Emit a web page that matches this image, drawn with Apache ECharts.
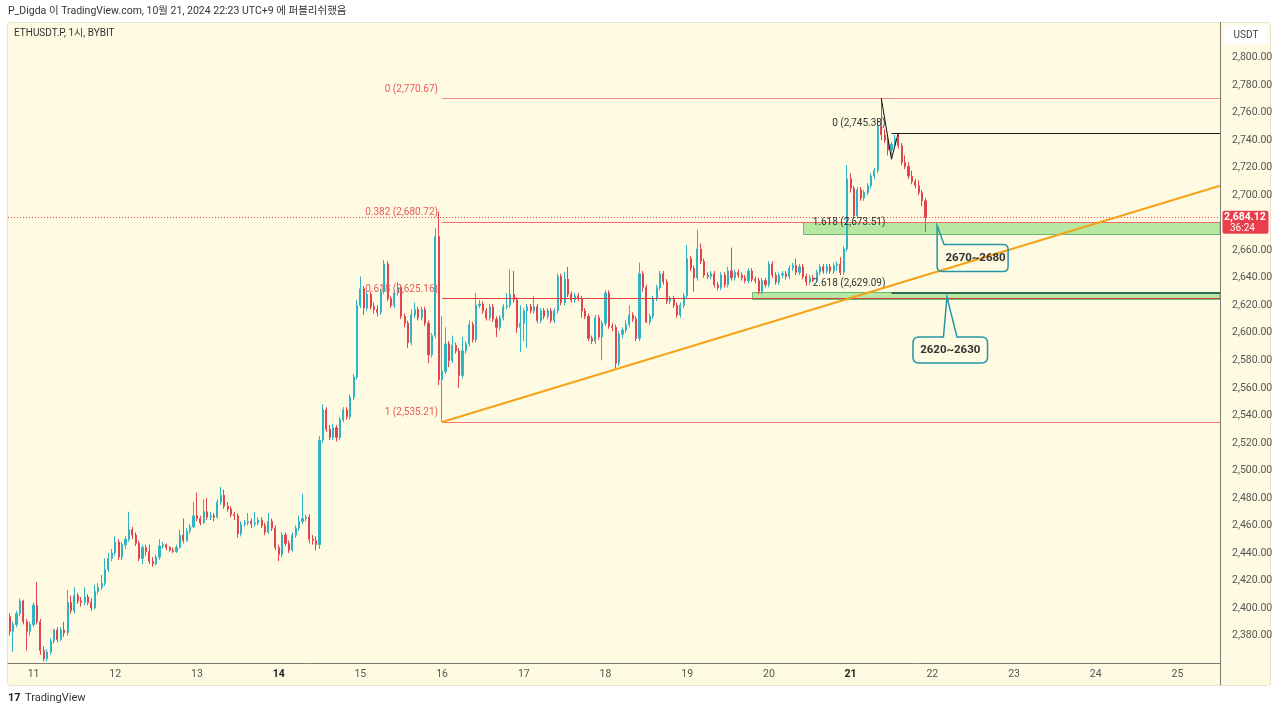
<!DOCTYPE html>
<html><head><meta charset="utf-8">
<script src="https://cdn.jsdelivr.net/npm/echarts/dist/echarts.min.js"></script>
<style>html,body{margin:0;padding:0;background:#ffffff;}#c{width:1280px;height:712px;}</style>
</head><body><div id="c"></div>
<script>
// ---------- DATA ----------
const START_DAY = 10, START_HOUR = 17, SLOT_COUNT = 356;   // hourly slots, Oct 10 17:00 -> Oct 25 12:00
const boldDays = ['14', '21'];
const headerText = 'P_Digda 이 TradingView.com, 10월 21, 2024 22:23 UTC+9 에 퍼블리쉬했음';
const symbolText = 'ETHUSDT.P, 1시, BYBIT';
const currencyText = 'USDT';
const lastPrice = 2684.12;
const countdown = '36:24';

// [open, close, low, high], one per hour from Oct 10 17:00
const candles = [
[2394,2383,2380,2396],[2383,2388,2368,2390],[2388,2396,2386,2398],[2396,2405,2394,2407],[2405,2390,2388,2406],
[2390,2383,2369,2392],[2383,2388,2380,2390],[2388,2402,2386,2404],[2402,2390,2388,2419],[2390,2369,2366,2392],
[2369,2363,2361,2372],[2363,2368,2361,2370],[2368,2376,2366,2378],[2376,2384,2374,2385],[2384,2377,2375,2386],
[2377,2384,2376,2386],[2384,2382,2379,2390],[2382,2404,2380,2413],[2404,2398,2396,2409],[2398,2409,2396,2415],
[2409,2405,2403,2411],[2405,2404,2401,2408],[2404,2408,2402,2415],[2408,2404,2402,2410],[2404,2400,2398,2407],
[2400,2412,2399,2417],[2412,2415,2410,2418],[2415,2418,2413,2424],[2418,2428,2416,2436],[2428,2436,2426,2440],
[2436,2440,2434,2443],[2440,2448,2438,2452],[2448,2437,2435,2450],[2437,2446,2435,2448],[2446,2450,2443,2452],
[2450,2457,2448,2470],[2457,2453,2450,2459],[2453,2447,2445,2455],[2447,2436,2434,2449],[2436,2444,2432,2446],
[2444,2441,2438,2446],[2441,2434,2432,2446],[2434,2432,2430,2437],[2432,2437,2431,2439],[2437,2445,2435,2450],
[2445,2446,2443,2448],[2446,2444,2442,2447],[2444,2442,2441,2445],[2442,2441,2440,2444],[2441,2444,2440,2446],
[2444,2453,2443,2457],[2453,2449,2447,2465],[2449,2456,2448,2458],[2456,2459,2454,2461],[2459,2467,2458,2477],
[2467,2465,2463,2484],[2465,2462,2460,2467],[2462,2470,2461,2479],[2470,2466,2464,2480],[2466,2467,2464,2470],
[2467,2466,2463,2469],[2466,2477,2465,2479],[2477,2482,2475,2488],[2482,2474,2472,2486],[2474,2472,2470,2477],
[2472,2468,2466,2474],[2468,2467,2464,2470],[2467,2454,2451,2469],[2454,2461,2452,2463],[2461,2462,2459,2464],
[2462,2463,2460,2469],[2463,2461,2458,2465],[2461,2462,2459,2470],[2462,2464,2460,2466],[2464,2460,2458,2466],
[2460,2455,2453,2462],[2455,2463,2454,2469],[2463,2458,2456,2465],[2458,2444,2442,2460],[2444,2439,2434,2446],
[2439,2453,2437,2455],[2453,2447,2445,2455],[2447,2442,2440,2449],[2442,2453,2441,2455],[2453,2458,2451,2460],
[2458,2463,2456,2467],[2463,2465,2461,2483],[2465,2466,2463,2468],[2466,2450,2447,2468],[2450,2449,2446,2453],
[2449,2446,2442,2452],[2446,2522,2443,2525],[2522,2544,2520,2548],[2544,2530,2528,2546],[2530,2524,2522,2533],
[2524,2531,2522,2534],[2531,2524,2521,2533],[2524,2537,2522,2539],[2537,2544,2535,2546],[2544,2539,2537,2546],
[2539,2553,2537,2555],[2553,2568,2551,2570],[2568,2620,2566,2624],[2620,2632,2618,2641],[2632,2618,2613,2634],
[2618,2628,2616,2630],[2628,2619,2617,2630],[2619,2617,2614,2622],[2617,2615,2612,2620],[2615,2630,2613,2632],
[2630,2650,2628,2653],[2650,2625,2623,2652],[2625,2620,2618,2627],[2620,2629,2618,2631],[2629,2633,2627,2637],
[2633,2612,2610,2635],[2612,2607,2604,2614],[2607,2593,2589,2609],[2593,2613,2591,2617],[2613,2617,2611,2622],
[2617,2611,2609,2619],[2611,2617,2609,2619],[2617,2607,2605,2619],[2607,2584,2578,2609],[2584,2598,2582,2600],
[2598,2670,2596,2676],[2670,2566,2562,2688],[2566,2572,2535.21,2612],[2572,2592,2570,2604],[2592,2580,2575,2594],
[2580,2591,2578,2598],[2591,2587,2585,2593],[2587,2569,2560,2589],[2569,2587,2567,2597],[2587,2592,2585,2594],
[2592,2606,2590,2609],[2606,2595,2593,2608],[2595,2620,2593,2629],[2620,2621,2618,2624],[2621,2616,2614,2623],
[2616,2611,2609,2618],[2611,2619,2609,2621],[2619,2610,2608,2621],[2610,2604,2597,2612],[2604,2611,2602,2613],
[2611,2619,2609,2621],[2619,2620,2617,2629],[2620,2628,2618,2646],[2628,2624,2622,2645],[2624,2604,2600,2626],
[2604,2607,2586,2620],[2607,2616,2594,2618],[2616,2619,2589,2621],[2619,2616,2614,2621],[2616,2619,2614,2627],
[2619,2609,2607,2621],[2609,2616,2607,2618],[2616,2612,2610,2618],[2612,2616,2610,2618],[2616,2609,2607,2618],
[2609,2616,2607,2618],[2616,2641,2614,2643],[2641,2622,2620,2643],[2622,2639,2620,2644],[2639,2628,2626,2648],
[2628,2624,2622,2630],[2624,2627,2622,2629],[2627,2625,2623,2629],[2625,2616,2611,2627],[2616,2612,2610,2618],
[2612,2596,2594,2614],[2596,2594,2592,2598],[2594,2611,2592,2613],[2611,2597,2595,2613],[2597,2607,2580,2609],
[2607,2629,2605,2631],[2629,2605,2603,2631],[2605,2604,2601,2607],[2604,2578,2574,2606],[2578,2599,2576,2601],
[2599,2602,2596,2604],[2602,2606,2600,2609],[2606,2613,2604,2620],[2613,2610,2608,2615],[2610,2596,2594,2612],
[2596,2643,2594,2651],[2643,2633,2630,2645],[2633,2608,2607,2635],[2608,2612,2606,2614],[2612,2625,2610,2627],
[2625,2633,2623,2635],[2633,2643,2631,2645],[2643,2637,2635,2645],[2637,2623,2621,2639],[2623,2625,2621,2627],
[2625,2620,2618,2627],[2620,2613,2611,2622],[2613,2620,2611,2622],[2620,2627,2618,2629],[2627,2654,2625,2664],
[2654,2647,2645,2656],[2647,2640,2630,2649],[2640,2661,2638,2675],[2661,2652,2650,2665],[2652,2642,2640,2654],
[2642,2641,2639,2644],[2641,2643,2639,2645],[2643,2635,2633,2645],[2635,2633,2631,2637],[2633,2642,2631,2644],
[2642,2635,2633,2644],[2635,2645,2633,2648],[2645,2640,2638,2662],[2640,2644,2638,2646],[2644,2642,2640,2646],
[2642,2640,2638,2644],[2640,2638,2636,2642],[2638,2645,2636,2647],[2645,2639,2637,2647],[2639,2638,2636,2641],
[2638,2630,2628,2640],[2630,2638,2628,2640],[2638,2635,2633,2640],[2635,2650,2633,2652],[2650,2642,2640,2652],
[2642,2637,2635,2644],[2637,2642,2635,2644],[2642,2643,2640,2645],[2643,2641,2639,2645],[2641,2647,2639,2649],
[2647,2649,2645,2651],[2649,2644,2642,2654],[2644,2648,2642,2650],[2648,2641,2639,2650],[2641,2637,2634,2643],
[2637,2640,2635,2642],[2640,2639,2637,2642],[2639,2644,2637,2646],[2644,2648,2642,2650],[2648,2645,2643,2650],
[2645,2648,2643,2650],[2648,2645,2643,2650],[2645,2649,2643,2651],[2649,2650,2645,2652],[2650,2644,2642,2655],
[2644,2661,2642,2663],[2661,2712,2659,2722],[2712,2705,2702,2716],[2705,2685,2683,2707],[2685,2704,2683,2706],
[2704,2698,2696,2706],[2698,2702,2696,2704],[2702,2707,2700,2709],[2707,2714,2705,2716],[2714,2718,2712,2720],
[2718,2750,2716,2756],[2750,2744,2740,2770.67],[2744,2740,2738,2748],[2740,2733,2729,2742],[2733,2737,2726.25,2739],
[2737,2741,2735,2744],[2741,2736,2734,2745.38],[2736,2724,2722,2738],[2724,2721,2719,2729],[2721,2714,2712,2724],
[2714,2710,2708,2718],[2710,2707,2705,2712],[2707,2702,2700,2711],[2702,2696,2692,2704],[2696,2684.12,2673.5,2698]
];

// Fib retracement (anchored at the candle of Oct 16 00:00)
const fibRetStart = 127;
const fibRetLevels = ['0', '0.382', '0.618', '1'];
const fibRetPrices = [2770.67, 2680.72, 2625.16, 2535.21];
// Trend-based fib extension
const fibExtStart = 259;
const fibExtLevels = ['0', '1.618', '2.618'];
const fibExtPrices = [2745.38, 2673.51, 2629.09];
const zigzag = [[256, 2770.67], [259, 2726.25], [261, 2745.38]];
// Trendline (candle index, price)
const trendline = [[127, 2535.21], [355.5, 2706.9]];
// Support zones: [start index, top price, bottom price]
const zones = [[233.1, 2680.5, 2672.0], [218.1, 2629.6, 2624.3]];
// Callouts: [text, tip index, tip price]
const callouts = [['2670~2680', 272.4, 2678.0], ['2620~2630', 275.3, 2626.1]];

// ---------- CHART ----------
const categories = [];
for (let k = 0; k < SLOT_COUNT; k++) {
  const h = START_HOUR + k;
  categories.push((START_DAY + Math.floor(h / 24)) + ' ' + String(h % 24).padStart(2, '0'));
}
const UP = '#2fb4c4', DOWN = '#e3434f';
const FONT = 'Roboto, "Noto Sans", "Noto Sans CJK KR", sans-serif';
const fmt = v => v.toLocaleString('en-US', {minimumFractionDigits: 2, maximumFractionDigits: 2});
const XMIN = -0.5, XMAX = SLOT_COUNT - 0.5;
const crisp = v => Math.round(v) + 0.5;

function txt(text, x, y, align, vAlign, fill, size, weight) {
  return {type: 'text', style: {text, x, y, align, textAlign: align, verticalAlign: vAlign, textVerticalAlign: vAlign,
    fill, fontSize: size, fontWeight: weight || 'normal', fontFamily: FONT}};
}
function hline(x1, x2, y, stroke, w, dash) {
  const yy = w % 2 === 1 ? crisp(y) : Math.round(y);
  return {type: 'line', shape: {x1, y1: yy, x2, y2: yy}, style: {stroke, lineWidth: w, lineDash: dash || null}};
}

function renderZones(params, api) {
  const xe = api.coord([XMAX, 0])[0];
  const children = zones.map(z => {
    const a = api.coord([z[0], z[1]]), b = api.coord([z[0], z[2]]);
    return {type: 'rect', shape: {x: Math.round(a[0]) + 0.5, y: Math.round(a[1]) + 0.5, width: xe - Math.round(a[0]) - 0.5, height: Math.round(b[1] - a[1])},
      style: {fill: '#b8e6a3', stroke: '#66bb6e', lineWidth: 1}};
  });
  return {type: 'group', children};
}

function renderDrawings(params, api) {
  const xs = api.coord([XMIN, 0])[0], xe = api.coord([XMAX, 0])[0];
  const ch = [];
  // last price dotted line
  ch.push(hline(xs, xe, api.coord([0, lastPrice])[1], '#e3434f', 1, [1, 2]));
  // fib retracement
  const retColors = ['#f28b8b', '#ec6a6c', '#d8403f', '#ef7777'];
  fibRetPrices.forEach((p, k) => {
    const a = api.coord([fibRetStart, p]);
    ch.push(hline(a[0], xe, a[1], retColors[k], 1));
    ch.push(txt(fibRetLevels[k] + ' (' + fmt(p) + ')', a[0] - 4, a[1] - 9, 'right', 'middle', '#e8595c', 10));
  });
  // fib extension (level 1.618 line sits under the zone border, so only its label shows)
  const extColors = ['#1a1a1a', null, '#2d6b4c'];
  const extWidths = [1, 1, 2];
  fibExtPrices.forEach((p, k) => {
    const a = api.coord([fibExtStart, p]);
    if (extColors[k]) ch.push(hline(a[0], xe, a[1], extColors[k], extWidths[k]));
    ch.push(txt(fibExtLevels[k] + ' (' + fmt(p) + ')', a[0] - 6, a[1] - 9, 'right', 'middle', '#333333', 10));
  });
  // zigzag
  ch.push({type: 'polyline', shape: {points: zigzag.map(p => api.coord(p))}, style: {stroke: '#111111', lineWidth: 1, fill: null}});
  // trendline
  const t0 = api.coord(trendline[0]), t1 = api.coord(trendline[1]);
  ch.push({type: 'line', shape: {x1: t0[0], y1: t0[1], x2: t1[0], y2: t1[1]}, style: {stroke: '#f5a21b', lineWidth: 2}});
  // callouts
  callouts.forEach((c, k) => {
    const p = api.coord([c[1], c[2]]);
    const ax = p[0], ay = p[1];
    let d, cx, cy;
    if (k === 0) {
      const x0 = ax, y0 = ay + 19, x1 = ax + 71, y1 = ay + 46, r = 5;
      d = `M${ax},${ay} L${ax + 7},${y0} L${x1 - r},${y0} Q${x1},${y0} ${x1},${y0 + r} L${x1},${y1 - r} Q${x1},${y1} ${x1 - r},${y1} L${x0 + r},${y1} Q${x0},${y1} ${x0},${y1 - r} Z`;
      cx = (x0 + x1) / 2 + 3; cy = (y0 + y1) / 2;
    } else {
      const x0 = ax - 34, x1 = ax + 40.6, y0 = ay + 40, y1 = ay + 66, r = 6;
      d = `M${x0 + r},${y0} L${ax - 3.5},${y0} L${ax},${ay} L${ax + 10},${y0} L${x1 - r},${y0} Q${x1},${y0} ${x1},${y0 + r} L${x1},${y1 - r} Q${x1},${y1} ${x1 - r},${y1} L${x0 + r},${y1} Q${x0},${y1} ${x0},${y1 - r} L${x0},${y0 + r} Q${x0},${y0} ${x0 + r},${y0} Z`;
      cx = (x0 + x1) / 2; cy = (y0 + y1) / 2;
    }
    ch.push({type: 'path', shape: {pathData: d}, style: {stroke: '#2596a6', lineWidth: 1.5, fill: null}});
    ch.push(txt(c[0], cx, cy, 'center', 'middle', '#333333', 11.5, 'bold'));
  });
  // last price tag on the price scale
  const ly = api.coord([0, lastPrice])[1];
  ch.push({type: 'rect', shape: {x: xe + 2.5, y: ly - 6.5, width: 46, height: 23, r: 2}, style: {fill: '#ea3e4c'}});
  ch.push(txt(fmt(lastPrice), xe + 25, ly + 0.5, 'center', 'middle', '#ffffff', 10.5, 'bold'));
  ch.push(txt(countdown, xe + 10, ly + 11.5, 'left', 'middle', '#ffffff', 10));
  return {type: 'group', children: ch};
}

const chart = echarts.init(document.getElementById('c'), null, {renderer: 'canvas'});
chart.setOption({
  animation: false,
  backgroundColor: '#ffffff',
  textStyle: {fontFamily: FONT},
  grid: {left: 8, right: 60, top: 22, bottom: 49, containLabel: false},
  xAxis: [
    {type: 'category', data: categories, boundaryGap: true,
     axisLine: {show: true, lineStyle: {color: '#7d7d74', width: 1}}, axisTick: {show: false}, splitLine: {show: false},
     axisLabel: {interval: (i, v) => v.endsWith(' 00'), margin: 6, color: '#555555', fontSize: 10.5, fontFamily: FONT,
       formatter: v => { const d = v.split(' ')[0]; return boldDays.includes(d) ? '{b|' + d + '}' : d; },
       rich: {b: {fontWeight: 'bold', color: '#222222', fontSize: 10.5, fontFamily: FONT}}}},
    {type: 'value', min: XMIN, max: XMAX, show: false}
  ],
  yAxis: [{type: 'value', position: 'right', min: 2360, max: 2826, interval: 20, scale: true,
    axisLine: {show: false}, axisTick: {show: false}, splitLine: {show: false},
    axisLabel: {margin: 12, color: '#555555', fontSize: 10.5, fontFamily: FONT,
      formatter: v => (v % 20 === 0 && v >= 2380 && v <= 2800 && Math.abs(v - lastPrice) > 10) ? fmt(v) : ''}}],
  graphic: [
    {type: 'rect', z: -10, silent: true, shape: {x: 7.5, y: 22.5, width: 1263, height: 663, r: 3}, style: {fill: '#fffbe2', stroke: '#e6e2cb', lineWidth: 1}},
    {type: 'line', z: 10, silent: true, shape: {x1: 1220.5, y1: 22, x2: 1220.5, y2: 685}, style: {stroke: '#7d7d74', lineWidth: 1}},
    {type: 'rect', z: 10, silent: true, shape: {x: 1224, y: 25, width: 44, height: 19, r: 3}, style: {fill: '#ffffff'}},
    {type: 'text', z: 11, silent: true, style: {text: currencyText, x: 1246, y: 35, align: 'center', verticalAlign: 'middle', fill: '#444444', fontSize: 10, fontFamily: FONT}},
    {type: 'text', z: 11, silent: true, style: {text: headerText, x: 8, y: 11, align: 'left', verticalAlign: 'middle', fill: '#333333', fontSize: 10.5, fontFamily: FONT}},
    {type: 'text', z: 11, silent: true, style: {text: symbolText, x: 14, y: 33, align: 'left', verticalAlign: 'middle', fill: '#333333', fontSize: 10, fontFamily: FONT}},
    {type: 'text', z: 11, silent: true, style: {text: '17', x: 8, y: 698, align: 'left', verticalAlign: 'middle', fill: '#222222', fontSize: 11, fontWeight: 'bold', fontFamily: FONT}},
    {type: 'text', z: 11, silent: true, style: {text: 'TradingView', x: 25, y: 698, align: 'left', verticalAlign: 'middle', fill: '#333333', fontSize: 11, fontFamily: FONT}}
  ],
  series: [
    {type: 'custom', name: 'zones', xAxisIndex: 1, yAxisIndex: 0, z: 1, silent: true, clip: false, data: [[0, 2500]], renderItem: renderZones},
    {type: 'candlestick', name: 'ETHUSDT.P', xAxisIndex: 0, yAxisIndex: 0, z: 2, barWidth: 1.6, data: candles,
     itemStyle: {color: UP, color0: DOWN, borderColor: UP, borderColor0: DOWN, borderWidth: 1}},
    {type: 'custom', name: 'drawings', xAxisIndex: 1, yAxisIndex: 0, z: 3, silent: true, clip: false, data: [[0, 2500]], renderItem: renderDrawings}
  ]
});
</script></body></html>
